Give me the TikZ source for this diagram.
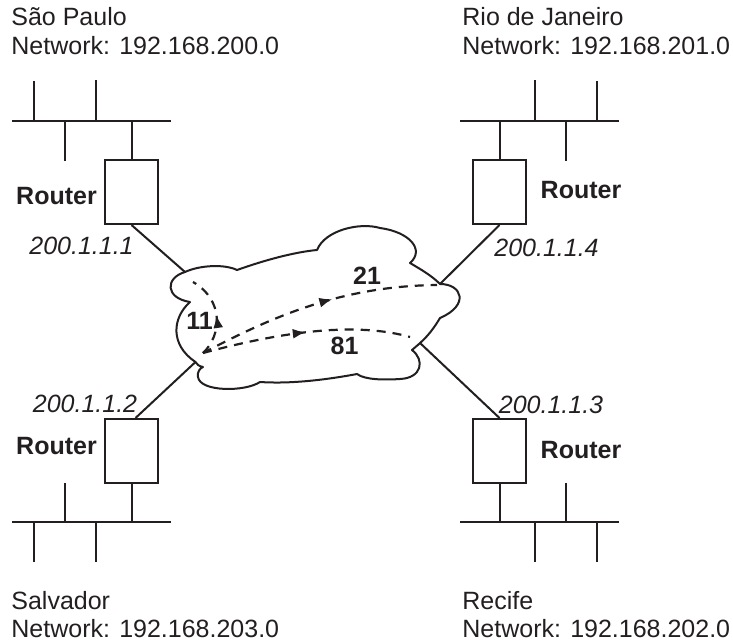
\documentclass[tikz,border=0pt]{standalone}
\usepackage{fontspec}
\setmainfont{Liberation Sans}
\usetikzlibrary{arrows.meta,decorations.markings}
\definecolor{ink}{RGB}{35,31,32}
\begin{document}
\begin{tikzpicture}[x=0.5pt,y=-0.5pt,color=ink,
  wire/.style={line width=1pt},
  router/.style={draw,line width=1pt,minimum width=26.5pt,minimum height=32pt,inner sep=0pt},
  txt/.style={inner sep=0pt,anchor=base west,font=\fontsize{12.5pt}{15pt}\selectfont},
  rlabel/.style={inner sep=0pt,anchor=base,font=\fontsize{12.5pt}{15pt}\selectfont\bfseries},
  iplabel/.style={inner sep=0pt,anchor=base,font=\fontsize{12.5pt}{15pt}\selectfont\itshape},
  route/.style={line width=1.1pt,dash pattern=on 4.5pt off 3.5pt,postaction={decorate},
    decoration={markings,mark=at position #1 with {\arrow{Latex[length=6.5pt,width=5pt]}}}},
]
\useasboundingbox (0,0) rectangle (733,643);

% titles
\node[txt] (tSP) at (11,25) {São Paulo};
\node[txt] (nSP) at (11,54) {Network: 192.168.200.0};
\node[txt] (tRJ) at (462,25) {Rio de Janeiro};
\node[txt] (nRJ) at (462,54) {Network: 192.168.201.0};
\node[txt] (tSA) at (11,609) {Salvador};
\node[txt] (nSA) at (11,637) {Network: 192.168.203.0};
\node[txt] (tRE) at (462,609) {Recife};
\node[txt] (nRE) at (462,637) {Network: 192.168.202.0};

% routers
\node[router] (rSP) at (131.5,192) {};
\node[router] (rRJ) at (499.5,192) {};
\node[router] (rSA) at (131.5,451) {};
\node[router] (rRE) at (499.5,451) {};

\node[rlabel] (lSP) at (56.5,204) {Router};
\node[rlabel] (lRJ) at (581,198) {Router};
\node[rlabel] (lSA) at (56.5,454) {Router};
\node[rlabel] (lRE) at (581,458) {Router};

\node[iplabel] (iSP) at (81.5,254) {200.1.1.1};
\node[iplabel] (iRJ) at (546.5,256) {200.1.1.4};
\node[iplabel] (iSA) at (85,412) {200.1.1.2};
\node[iplabel] (iRE) at (551,413) {200.1.1.3};

% LAN buses
\coordinate (bSP) at (131.5,121);
\coordinate (bRJ) at (499.5,121);
\coordinate (bSA) at (131.5,522);
\coordinate (bRE) at (499.5,522);
\draw[wire] (12,121) -- (171,121);
\draw[wire] (34,81) -- (34,121) (96,80) -- (96,121) (65,121) -- (65,161);
\draw[wire] (460,121) -- (619,121);
\draw[wire] (535,80) -- (535,121) (597,81) -- (597,121) (566,121) -- (566,161);
\draw[wire] (12,522) -- (171,522);
\draw[wire] (65,483) -- (65,522) (34,522) -- (34,562) (96,522) -- (96,562);
\draw[wire] (460,522) -- (619,522);
\draw[wire] (566,483) -- (566,522) (535,522) -- (535,562) (597,522) -- (597,562);
\draw[wire] (rSP.north) -- (bSP);
\draw[wire] (rRJ.north) -- (bRJ);
\draw[wire] (rSA.south) -- (bSA);
\draw[wire] (rRE.south) -- (bRE);

% cloud
\coordinate (cSP) at (185,272);
\coordinate (cRJ) at (440,284);
\coordinate (cSA) at (195.5,362);
\coordinate (cRE) at (420,343);
\draw[wire,line join=round]
  (190,302) .. controls (165,298) and (165,278) .. (cSP)
  .. controls (200,265) and (225,264) .. (237,270)
  .. controls (265,260) and (295,252) .. (317,250)
  .. controls (325,230) and (360,222) .. (380,228)
  .. controls (410,232) and (425,250) .. (410,263)
  .. controls (422,270) and (432,276) .. (cRJ)
  .. controls (462,284) and (470,305) .. (440,318)
  .. controls (434,328) and (428,336) .. (cRE)
  .. controls (417,346) and (414,348) .. (412,350)
  .. controls (425,360) and (422,378) .. (400,379)
  .. controls (385,380) and (365,380) .. (357,374)
  .. controls (325,380) and (290,384) .. (260,382)
  .. controls (245,392) and (200,392) .. (198,377)
  .. controls (197,372) and (200,368) .. (203,367)
  .. controls (198,366) and (197,364) .. (cSA)
  .. controls (170,345) and (172,318) .. (190,302) -- cycle;

% links
\draw[wire] (rSP.south) -- (cSP);
\draw[wire] (rRJ.south) -- (cRJ);
\draw[wire] ([xshift=2pt]rSA.north) -- (cSA);
\draw[wire] (rRE.north) -- (cRE);

% routes
\coordinate (O) at (203,353);
\coordinate (e11) at (193,282);
\coordinate (e21) at (437,285);
\coordinate (e81) at (410,337);
\draw[route=0.5] (O) .. controls (222,335) and (224,300) .. (e11);
\draw[route=0.57] (O) .. controls (270,318) and (340,286) .. (e21);
\draw[route=0.5] (O) .. controls (270,335) and (350,320) .. (e81);

\node[rlabel] (n11) at (199.5,329) {11};
\node[rlabel] (n21) at (367,284) {21};
\node[rlabel] (n81) at (344.5,354) {81};
\end{tikzpicture}
\end{document}
